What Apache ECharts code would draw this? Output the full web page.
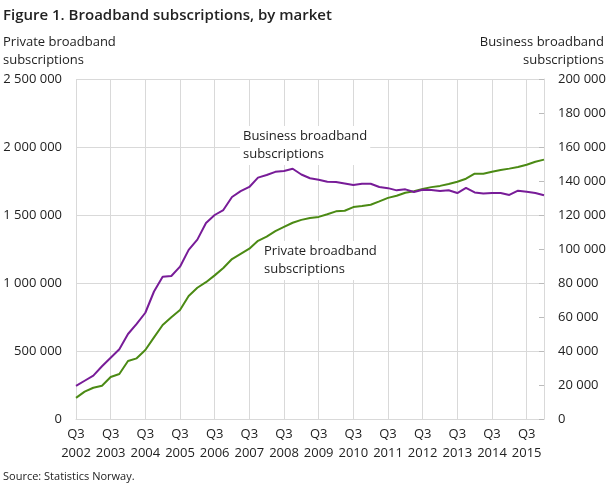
<!DOCTYPE html>
<html>
<head>
<meta charset="utf-8">
<script src="https://cdn.jsdelivr.net/npm/echarts@6/dist/echarts.min.js"></script>
<style>
html,body{margin:0;padding:0;background:#fff;}
#c{width:610px;height:487px;}
</style>
</head>
<body>
<div id="c"></div>
<script>
var quarters = [];
(function(){
  var y = 2002, q = 3;
  for (var k = 0; k < 55; k++) {
    quarters.push('Q' + q + ' ' + y);
    q++; if (q > 4) { q = 1; y++; }
  }
})();

var privateSubs = [155000,201000,230000,245000,309000,331000,426000,446000,507000,600000,
  691000,748000,801000,905000,965000,1006000,1056000,1110000,1176000,1214000,
  1252000,1310000,1341000,1381000,1412000,1443000,1464000,1478000,1486000,1506000,
  1527000,1531000,1558000,1566000,1575000,1600000,1626000,1642000,1664000,1674000,
  1691000,1705000,1714000,1728000,1745000,1767000,1804000,1804000,1818000,1831000,
  1841000,1853000,1870000,1892000,1907000];

var businessSubs = [19500,22500,25500,31000,36000,41000,50000,56000,62500,75000,
  83700,84100,89600,99500,105500,115300,120000,122900,130600,134000,
  136500,142000,143500,145400,145900,147200,143800,141600,140700,139600,
  139400,138500,137600,138400,138400,136500,135800,134500,135100,133500,
  134800,134700,134100,134600,132900,135900,133300,132600,132900,132900,
  131800,134300,133700,132900,131600];

var titleText = 'Figure 1. Broadband subscriptions, by market';
var leftAxisName = 'Private broadband\nsubscriptions';
var rightAxisName = 'Business broadband\nsubscriptions';
var businessLabel = 'Business broadband\nsubscriptions';
var privateLabel = 'Private broadband\nsubscriptions';
var sourceText = 'Source: Statistics Norway.';

var FONT = '"Open Sans", sans-serif';
function fmt(v){ return String(v).replace(/\B(?=(\d{3})+(?!\d))/g, ' '); }
function isQ3(idx){ return quarters[idx].indexOf('Q3') === 0; }

var chart = echarts.init(document.getElementById('c'), null, {renderer:'canvas'});
chart.setOption({
  animation: false,
  textStyle: {fontFamily: FONT},
  grid: {left: 76, right: 66, top: 79, bottom: 68, containLabel: false},
  xAxis: {
    type: 'category',
    data: quarters,
    boundaryGap: false,
    axisLine: {show: true, lineStyle: {color: '#d9d9d9', width: 1}},
    axisTick: {show: false},
    splitLine: {show: true, interval: function(i){ return isQ3(i); }, lineStyle: {color: '#d9d9d9', width: 1}},
    axisLabel: {
      interval: function(i){ return isQ3(i); },
      formatter: function(v){ return v.replace(' ', '\n'); },
      color: '#222', fontSize: 13, lineHeight: 19, margin: 6, fontFamily: FONT
    }
  },
  yAxis: [
    {
      type: 'value', min: 0, max: 2500000, interval: 500000,
      axisLine: {show: false}, axisTick: {show: false},
      splitLine: {show: true, lineStyle: {color: '#d9d9d9', width: 1}},
      axisLabel: {formatter: fmt, color: '#222', fontSize: 13, margin: 14, fontFamily: FONT}
    },
    {
      type: 'value', min: 0, max: 200000, interval: 20000, position: 'right',
      axisLine: {show: true, lineStyle: {color: '#d9d9d9', width: 1}},
      axisTick: {show: true, inside: true, length: 5, lineStyle: {color: '#bbbbbb'}},
      splitLine: {show: false},
      axisLabel: {formatter: fmt, color: '#222', fontSize: 13, margin: 14, fontFamily: FONT}
    }
  ],
  series: [
    {
      name: 'Private broadband subscriptions', type: 'line', yAxisIndex: 0,
      data: privateSubs, showSymbol: false, symbol: 'none',
      lineStyle: {color: '#4b8a14', width: 2}, itemStyle: {color: '#4b8a14'}, z: 3
    },
    {
      name: 'Business broadband subscriptions', type: 'line', yAxisIndex: 1,
      data: businessSubs, showSymbol: false, symbol: 'none',
      lineStyle: {color: '#781c98', width: 2}, itemStyle: {color: '#781c98'}, z: 3
    }
  ],
  graphic: [
    {type: 'text', left: 3, top: 8, z: 10, style: {text: titleText, fontSize: 15, fontWeight: 600, fill: '#222', fontFamily: FONT}},
    {type: 'text', left: 3, top: 33, z: 10, style: {text: leftAxisName, fontSize: 13, lineHeight: 18, fill: '#222', fontFamily: FONT}},
    {type: 'text', x: 604, y: 33, z: 10, style: {text: rightAxisName, fontSize: 13, lineHeight: 18, fill: '#222', fontFamily: FONT, align: 'right', verticalAlign: 'top'}},
    {type: 'text', left: 240, top: 126, z: 1, style: {text: businessLabel, fontSize: 13, lineHeight: 18, fill: '#222', fontFamily: FONT, backgroundColor: '#fff', padding: [1, 3, 2, 3]}},
    {type: 'text', left: 261, top: 241, z: 1, style: {text: privateLabel, fontSize: 13, lineHeight: 18, fill: '#222', fontFamily: FONT, backgroundColor: '#fff', padding: [1, 3, 2, 3]}},
    {type: 'text', left: 3, top: 471, z: 10, style: {text: sourceText, fontSize: 11, fill: '#222', fontFamily: FONT}}
  ]
});
</script>
</body>
</html>
